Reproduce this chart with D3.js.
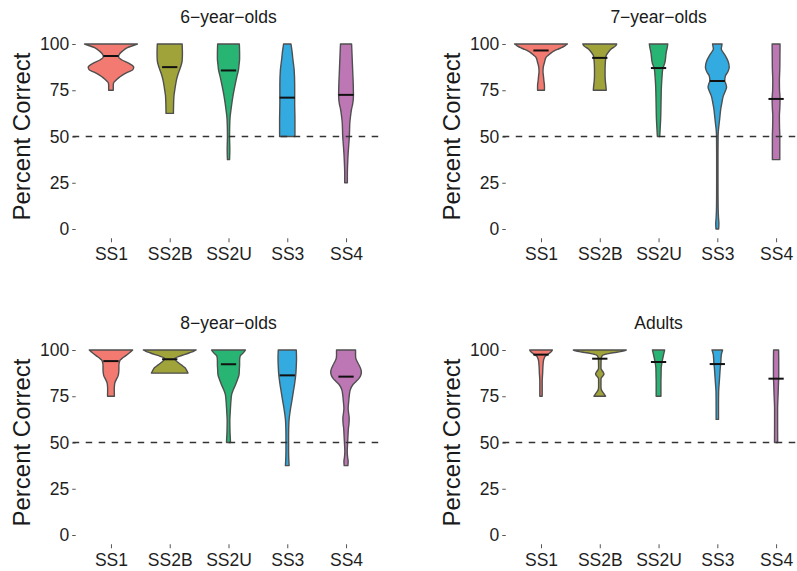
<!DOCTYPE html>
<html>
<head>
<meta charset="utf-8">
<script src="https://cdn.jsdelivr.net/npm/d3@7"></script>
<style>
  body { margin: 0; background: #fff; }
  svg { display: block; font-family: "Liberation Sans", Arial, Helvetica, sans-serif; }
</style>
</head>
<body>
<svg id="chart"></svg>
<script>
// categories and facet titles
const categories = ["SS1", "SS2B", "SS2U", "SS3", "SS4"];
const panelTitles = ["6\u2212year\u2212olds", "7\u2212year\u2212olds", "8\u2212year\u2212olds", "Adults"];
const yTicks = [0, 25, 50, 75, 100];
const chanceLevel = 50;
const colors = ["#F37A70", "#A0A33A", "#28B574", "#33ABE0", "#BD77B4"];

// violin outlines: [percent correct, relative density]
const violins6 = [
  [[100,1.0],[98,0.62],[96,0.42],[94,0.3],[93,0.29],[91.5,0.4],[89.5,0.68],[87.5,0.86],[86,0.82],[84.5,0.6],[83,0.42],[81.8,0.3],[80,0.16],[79,0.1],[77.5,0.087],[75,0.087]],
  [[100,0.47],[95,0.48],[91,0.47],[88.5,0.43],[86.3,0.38],[83.5,0.31],[80.9,0.26],[76,0.2],[72,0.16],[67,0.145],[62.5,0.14]],
  [[100,0.41],[95,0.42],[92,0.42],[89,0.4],[86.3,0.38],[82,0.31],[77.3,0.24],[72,0.17],[68.3,0.13],[64,0.09],[61,0.063],[55.7,0.045],[50,0.04],[43,0.05],[37.5,0.04]],
  [[100,0.14],[96,0.18],[92,0.21],[86,0.26],[78,0.28],[68,0.28],[59,0.29],[50,0.29]],
  [[100,0.21],[93,0.23],[86,0.25],[79,0.27],[72,0.28],[67.5,0.25],[65,0.21],[61,0.17],[57.7,0.145],[50,0.125],[45,0.1],[41,0.08],[35,0.06],[30,0.05],[25,0.05]]
];
const violins7 = [
  [[100,1.0],[99,0.9],[98,0.78],[97.3,0.66],[96.3,0.5],[95.5,0.41],[94,0.28],[92.8,0.19],[90,0.13],[87.5,0.085],[85,0.075],[82.9,0.09],[80,0.11],[77.5,0.13],[75,0.13]],
  [[100,0.64],[99,0.6],[97.3,0.43],[95.5,0.32],[93.7,0.24],[90,0.21],[86,0.2],[83,0.2],[80,0.21],[77.5,0.23],[75,0.245]],
  [[100,0.35],[97.5,0.32],[95.5,0.29],[90,0.24],[86.5,0.16],[82,0.13],[77.5,0.11],[68.5,0.094],[59.5,0.08],[54,0.06],[51.4,0.05],[50,0.045]],
  [[100,0.18],[98.5,0.16],[97.3,0.15],[95.5,0.22],[93.7,0.3],[90.5,0.41],[87.4,0.45],[85,0.4],[82.9,0.31],[80.2,0.28],[78.5,0.32],[76.6,0.35],[74.5,0.3],[72.1,0.23],[68,0.17],[64.9,0.13],[61,0.1],[57.7,0.075],[54,0.045],[50.5,0.03],[40,0.025],[25,0.025],[12,0.03],[6,0.045],[3,0.06],[0,0.05]],
  [[100,0.15],[93,0.145],[86.5,0.14],[80,0.125],[75,0.13],[70.3,0.15],[65,0.14],[61.3,0.125],[55,0.13],[50.5,0.14],[44,0.14],[37.5,0.14]]
];
const violins8 = [
  [[100,0.82],[98.5,0.7],[96.8,0.55],[95.2,0.4],[94.1,0.33],[91.5,0.3],[89.6,0.3],[87.5,0.29],[86,0.27],[84,0.2],[82.4,0.15],[80.5,0.13],[78.8,0.125],[75,0.13]],
  [[100,1.0],[99.3,0.9],[98.5,0.75],[97.5,0.55],[96.7,0.38],[95.5,0.2],[94.5,0.22],[93.2,0.32],[91.8,0.45],[90.5,0.57],[89,0.64],[87.5,0.69]],
  [[100,0.64],[98.3,0.55],[96.7,0.44],[94.5,0.42],[92.2,0.42],[89.5,0.41],[86.8,0.4],[84,0.34],[81.4,0.27],[78.5,0.18],[76,0.12],[72,0.09],[68.8,0.075],[65,0.06],[61.6,0.05],[57,0.055],[54.4,0.06],[52,0.07],[50,0.075]],
  [[100,0.34],[95.5,0.35],[91,0.34],[86.5,0.32],[82,0.28],[77.5,0.23],[73,0.18],[68.5,0.125],[65,0.09],[61.3,0.063],[54.1,0.05],[45.1,0.05],[40,0.06],[37.5,0.07]],
  [[100,0.36],[97,0.36],[95.5,0.37],[93.5,0.43],[91.9,0.49],[88.3,0.58],[86.5,0.56],[84.7,0.49],[83,0.38],[81.1,0.25],[78.5,0.16],[75.7,0.125],[72,0.1],[68.5,0.08],[65.5,0.1],[63.1,0.12],[60,0.11],[57.7,0.09],[54,0.075],[50.5,0.063],[45.1,0.045],[42,0.06],[39.7,0.08],[37.5,0.07]]
];
const violinsAdults = [
  [[100,0.43],[99.3,0.4],[98.5,0.34],[97.5,0.25],[96.7,0.17],[95.5,0.12],[94,0.09],[90.4,0.07],[87,0.06],[83.2,0.045],[79,0.045],[75,0.045]],
  [[100,1.0],[99.6,0.92],[99.1,0.78],[98.6,0.55],[98.2,0.38],[97.6,0.2],[97,0.1],[96,0.065],[94.6,0.05],[90.1,0.045],[89,0.08],[88,0.13],[87,0.16],[86,0.12],[85,0.06],[84,0.045],[80,0.045],[78.5,0.06],[77.5,0.1],[76.3,0.16],[75,0.22]],
  [[100,0.23],[97.5,0.19],[95.5,0.16],[92.5,0.12],[90.1,0.1],[86,0.095],[82.9,0.09],[75,0.09]],
  [[100,0.2],[97.3,0.15],[93,0.13],[90.1,0.11],[86,0.09],[82.9,0.075],[80,0.06],[77.5,0.05],[70,0.045],[62.5,0.045]],
  [[100,0.095],[93,0.1],[86.5,0.1],[80,0.085],[77.5,0.08],[72,0.065],[68.5,0.057],[60,0.057],[50,0.06]]
];

// group means (black bars)
const means6 = [93.5, 87.5, 85.7, 71, 72.5];
const means7 = [96.5, 92.5, 87, 80, 70.3];
const means8 = [94, 95, 92.3, 86.3, 85.6];
const meansAdults = [97.5, 95.3, 93.5, 92.4, 84.5];

const panelViolins = [violins6, violins7, violins8, violinsAdults];
const panelMeans = [means6, means7, means8, meansAdults];

const W = 797, H = 571;
const colOffset = [0, 430.05];
const rowOffset = [0, 306];
const inner = { left: 75.7, right: 381.3, top: 34.75, bottom: 238.25 };

const svg = d3.select("#chart").attr("width", W).attr("height", H);

function drawPanel(i) {
  const g = svg.append("g")
    .attr("transform", `translate(${colOffset[i % 2]}, ${rowOffset[Math.floor(i / 2)]})`);

  const x = d3.scalePoint().domain(categories).range([inner.left, inner.right]).padding(0.6);
  const y = d3.scaleLinear().domain([-5, 105]).range([inner.bottom, inner.top]);
  const w = d3.scaleLinear().domain([0, 1]).range([0, x.step() * 0.45]);

  // --- axes ---
  const yAxis = g.append("g")
    .attr("transform", `translate(${inner.left}, 0)`)
    .call(d3.axisLeft(y).tickValues(yTicks).tickSize(3.5).tickPadding(3));
  yAxis.select(".domain").remove();
  yAxis.selectAll("line").attr("stroke", "#555").attr("stroke-width", 1);
  yAxis.selectAll("text")
    .attr("fill", "#1f1f1f")
    .style("font-size", "17.5px")
    .style("font-family", "Liberation Sans, Arial, sans-serif");

  const xAxis = g.append("g")
    .attr("transform", `translate(0, ${inner.bottom})`)
    .call(d3.axisBottom(x).tickSize(4).tickPadding(5));
  xAxis.select(".domain").remove();
  xAxis.selectAll("line").attr("stroke", "#555").attr("stroke-width", 1);
  xAxis.selectAll("text")
    .attr("fill", "#1f1f1f")
    .style("font-size", "17.5px")
    .style("font-family", "Liberation Sans, Arial, sans-serif");

  g.append("text")
    .attr("transform", `translate(${inner.left - 54}, ${(inner.top + inner.bottom) / 2}) rotate(-90)`)
    .attr("text-anchor", "middle")
    .attr("dy", "0.36em")
    .attr("fill", "#1a1a1a")
    .style("font-size", "24px")
    .text("Percent Correct");

  g.append("text")
    .attr("x", (inner.left + inner.right) / 2)
    .attr("y", inner.top - 11.5)
    .attr("text-anchor", "middle")
    .attr("fill", "#1a1a1a")
    .style("font-size", "17.5px")
    .text(panelTitles[i]);

  // --- violins ---
  categories.forEach((cat, j) => {
    const cx = x(cat);
    const area = d3.area()
      .curve(d3.curveMonotoneY)
      .y((d) => y(d[0]))
      .x0((d) => cx - w(d[1]))
      .x1((d) => cx + w(d[1]));
    g.append("path")
      .datum(panelViolins[i][j])
      .attr("d", area)
      .attr("fill", colors[j])
      .attr("stroke", "#4f4f4f")
      .attr("stroke-width", 1.4)
      .attr("stroke-linejoin", "round");
  });

  // mean bars
  g.selectAll(".mean")
    .data(panelMeans[i])
    .enter()
    .append("line")
    .attr("x1", (d, j) => x(categories[j]) - x.step() * 0.13)
    .attr("x2", (d, j) => x(categories[j]) + x.step() * 0.13)
    .attr("y1", (d) => y(d))
    .attr("y2", (d) => y(d))
    .attr("stroke", "#111")
    .attr("stroke-width", 2);

  // chance line
  g.append("line")
    .attr("x1", inner.left - 3)
    .attr("x2", inner.right)
    .attr("y1", y(chanceLevel))
    .attr("y2", y(chanceLevel))
    .attr("stroke", "#333")
    .attr("stroke-width", 1.4)
    .attr("stroke-dasharray", "6.5,6.5");
}

[0, 1, 2, 3].forEach(drawPanel);
</script>
</body>
</html>
